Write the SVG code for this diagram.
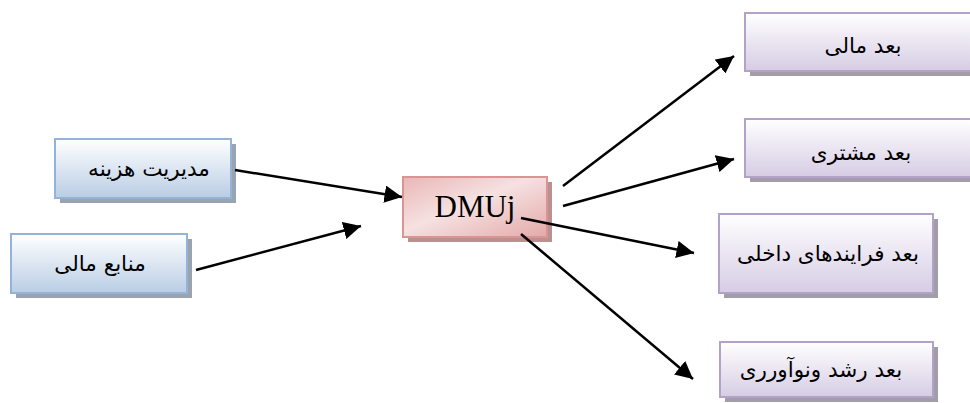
<svg xmlns="http://www.w3.org/2000/svg" width="970" height="403" viewBox="0 0 970 403">
<defs>
<linearGradient id="gP" x1="0" y1="0" x2="0" y2="1">
<stop offset="0" stop-color="#ffffff"/>
<stop offset="1" stop-color="#d6cce4"/>
</linearGradient>
<linearGradient id="gB" x1="0" y1="0" x2="0" y2="1">
<stop offset="0" stop-color="#ffffff"/>
<stop offset="1" stop-color="#b9cde5"/>
</linearGradient>
<linearGradient id="gR" x1="0" y1="0" x2="1" y2="1">
<stop offset="0" stop-color="#e9b7b6"/>
<stop offset="0.45" stop-color="#f6e1e1"/>
<stop offset="1" stop-color="#e3a9a8"/>
</linearGradient>
<marker id="ah" viewBox="0 0 10 10" refX="10" refY="5" markerWidth="7" markerHeight="7" markerUnits="strokeWidth" orient="auto">
<path d="M0,0 L10,5 L0,10 z" fill="#000"/>
</marker>
<style>
.sp{fill:#a39ca9}
.sb{fill:#9aa3b0}
.sr{fill:#bc9090}
.p{fill:url(#gP);stroke:#b3a2c7;stroke-width:2}
.b{fill:url(#gB);stroke:#95b3d7;stroke-width:2}
.r{fill:url(#gR);stroke:#d99594;stroke-width:2}
.t{font-family:"DejaVu Sans",sans-serif;font-size:21.5px;fill:#000;text-anchor:middle}
.d{font-family:"Liberation Serif",serif;font-size:31px;fill:#000;text-anchor:middle}
.c{stroke:#000;stroke-width:2.5;fill:none;marker-end:url(#ah)}
</style>
</defs>
<g id="n1">
<rect class="sp" x="750" y="18" width="225" height="58"/>
<rect class="p" x="745" y="13" width="230" height="58"/>
<text class="t" x="863" y="53">بعد مالی</text>
</g>
<g id="n2">
<rect class="sp" x="750" y="124" width="225" height="58"/>
<rect class="p" x="745" y="119" width="230" height="58"/>
<text class="t" x="861" y="160">بعد مشتری</text>
</g>
<g id="n3">
<rect class="sp" x="724" y="219" width="214" height="79"/>
<rect class="p" x="719" y="214" width="214" height="79"/>
<text class="t" x="828" y="261">بعد فرایندهای داخلی</text>
</g>
<g id="n4">
<rect class="sp" x="725" y="347" width="213" height="55"/>
<rect class="p" x="720" y="342" width="213" height="55"/>
<text class="t" x="821" y="377">بعد رشد ونوآورری</text>
</g>
<g id="n5">
<rect class="sr" x="408" y="182" width="144" height="60"/>
<rect class="r" x="403" y="177" width="144" height="60"/>
<text class="d" x="475" y="217">DMUj</text>
</g>
<g id="n6">
<rect class="sb" x="60" y="144" width="176" height="59"/>
<rect class="b" x="55" y="139" width="176" height="59"/>
<text class="t" x="149" y="176">مدیریت هزینه</text>
</g>
<g id="n7">
<rect class="sb" x="16" y="239" width="176" height="59"/>
<rect class="b" x="11" y="234" width="176" height="59"/>
<text class="t" x="100" y="271">منابع مالی</text>
</g>
<g id="connectors">
<line class="c" x1="235" y1="170" x2="402" y2="197"/>
<line class="c" x1="196" y1="270" x2="361" y2="226"/>
<line class="c" x1="563" y1="186" x2="734" y2="56"/>
<line class="c" x1="563" y1="206" x2="734" y2="159"/>
<line class="c" x1="521" y1="218" x2="694" y2="253"/>
<line class="c" x1="521" y1="234" x2="693" y2="379"/>
</g>
</svg>
